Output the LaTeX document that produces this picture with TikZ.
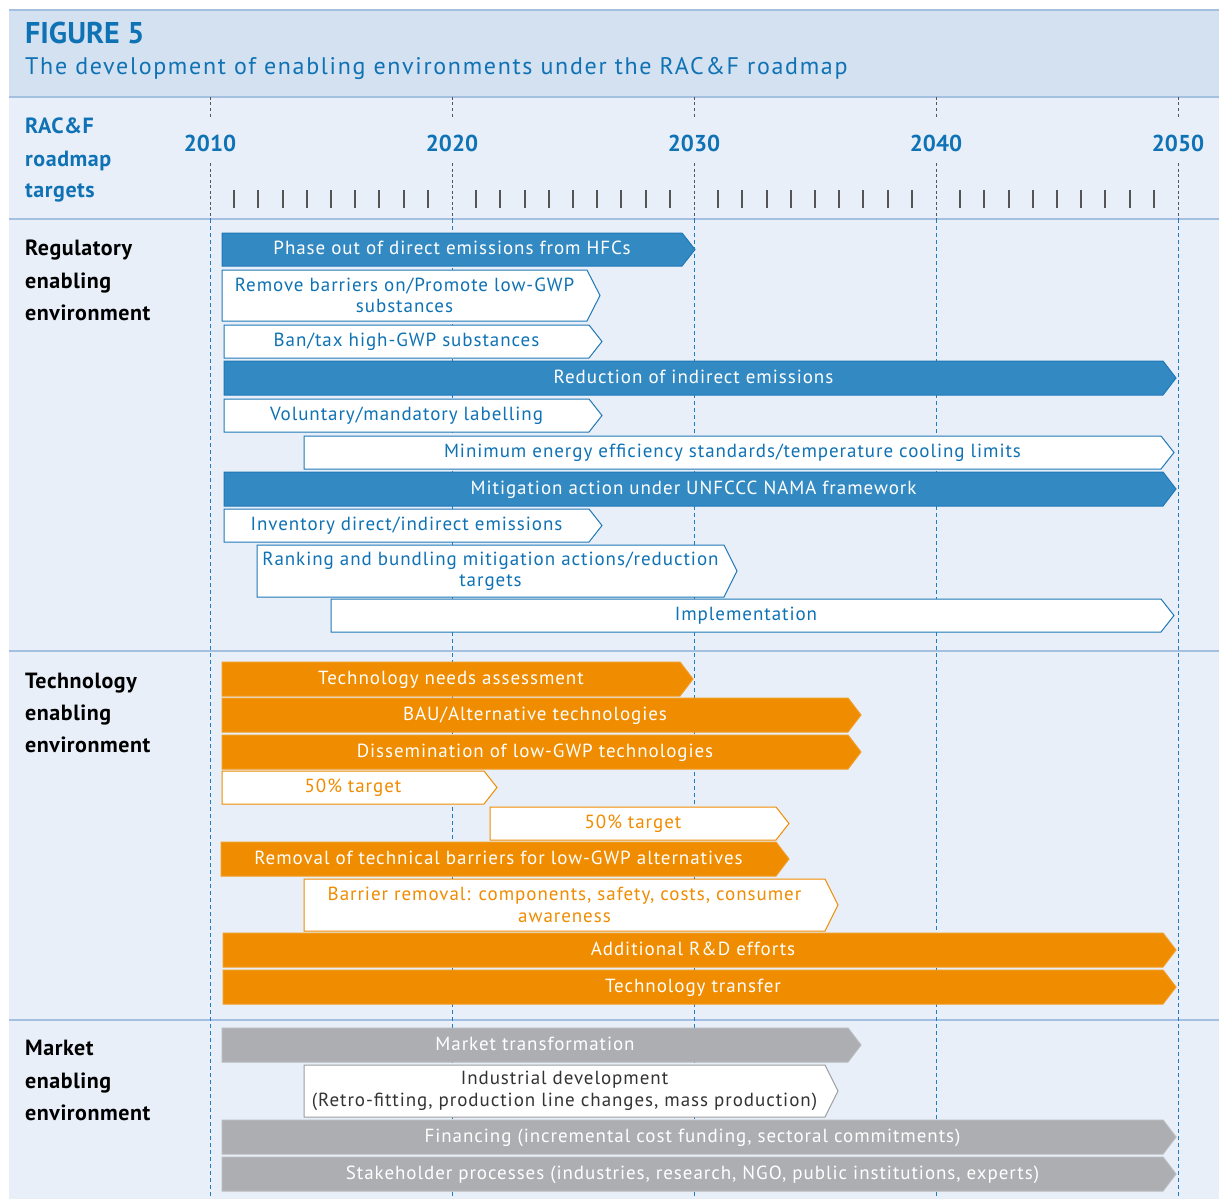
\documentclass[tikz,border=0pt]{standalone}
\usepackage{fontspec}
\setmainfont{PT Sans}
\newfontfamily\barfont[LetterSpace=5]{PT Sans}
\newfontfamily\subfont[LetterSpace=7]{PT Sans}
\newfontfamily\sidefont[LetterSpace=2.5]{PT Sans}
\definecolor{hdr}{HTML}{D4E1F0}
\definecolor{bgc}{HTML}{E8EFF8}
\definecolor{rulec}{HTML}{A3C0E0}
\definecolor{ttl}{HTML}{0F72B5}
\definecolor{bblue}{HTML}{338AC3}
\definecolor{bedge}{HTML}{1F78B8}
\definecolor{orng}{HTML}{F08C00}
\definecolor{gry}{HTML}{ADAEB1}
\definecolor{gedge}{HTML}{9C9DA0}
\definecolor{ylc}{HTML}{1C7DC2}
\definecolor{tickc}{HTML}{555555}
\definecolor{darktxt}{HTML}{333333}
\tikzset{
  barfnt/.style={font=\barfont\fontsize{19}{21.5}\selectfont, inner sep=0pt, align=center},
  rb/.style={fill=bblue, draw=bedge, line width=1pt},
  rbtext/.style={barfnt, text=white},
  rw/.style={fill=white, draw=bedge, line width=1pt},
  rwtext/.style={barfnt, text=ttl},
  ob/.style={fill=orng, draw=orng!85!white, line width=1pt},
  obtext/.style={barfnt, text=white},
  ow/.style={fill=white, draw=orng, line width=1pt},
  owtext/.style={barfnt, text=orng},
  gb/.style={fill=gry, draw=gry!85!white, line width=1pt},
  gbtext/.style={barfnt, text=white},
  gw/.style={fill=white, draw=gedge, line width=1pt},
  gwtext/.style={barfnt, text=darktxt},
  one/.style={text height=14pt, text depth=4pt},
  rulel/.style={draw=rulec, line width=1.5pt},
  ydash/.style={draw=tickc, line width=0.9pt, dash pattern=on 3pt off 2.5pt},
  ybdash/.style={draw=ylc, line width=1pt, dash pattern=on 4pt off 3pt},
  tick/.style={draw=tickc, line width=2pt},
  yearlab/.style={font=\bfseries\fontsize{23}{23}\selectfont, text=ttl, inner sep=0pt, anchor=base},
  sidelab/.style={font=\sidefont\bfseries\fontsize{22}{22}\selectfont, text=black, inner sep=0pt, anchor=base west},
  sidelabb/.style={sidelab, text=ttl},
}
% name, kind, x1, x2(tip), y1, y2, extra, text
\newcommand\rmbar[8]{%
  \path[#2] (#3,#5) -- ({#4-13},#5) -- (#4,{(#5+#6)/2}) -- ({#4-13},#6) -- (#3,#6) -- cycle;
  \node[#2text,#7] (#1) at ({(#3+#4-13)/2},{(#5+#6)/2}) {#8};}
\begin{document}
\begin{tikzpicture}[x=1pt,y=-1pt]
\useasboundingbox (0,0) rectangle (1219,1199);
\fill[white] (0,0) rectangle (1219,1199);
% bands
\fill[hdr] (9,10) rectangle (1219,97);
\fill[bgc] (9,97) rectangle (1219,1199);
\draw[rulel] (9,10) -- (1219,10);
\foreach \yy in {97,219,651,1020} \draw[rulel] (9,\yy) -- (1219,\yy);
% title
\node[anchor=base west, inner sep=0pt, font=\bfseries\fontsize{30}{30}\selectfont, text=ttl] (fig) at (25,44) {FIGURE 5};
\node[anchor=base west, inner sep=0pt, font=\subfont\fontsize{24}{24}\selectfont, text=ttl] (sub) at (25,75) {The development of enabling environments under the RAC\&F roadmap};
% axis header
\node[sidelabb] (h1) at (25,133) {RAC\&F};
\node[sidelabb] (h2) at (25,166) {roadmap};
\node[sidelabb] (h3) at (25,197) {targets};
\foreach \yr/\xx in {2010/210,2020/452,2030/694,2040/936,2050/1178}{
  \node[yearlab] (y\yr) at (\xx,151) {\yr};
  \draw[ydash] (\xx,97) -- (\xx,118);
  \draw[ydash] (\xx,163) -- (\xx,219);
  \draw[ybdash] (\xx,219) -- (\xx,1199);
}
\foreach \d in {0,...,3} \foreach \k in {1,...,9}
  \draw[tick] ({210+24.2*(10*\d+\k)},190) -- ++(0,18);
% side labels
\node[sidelab] (r1) at (25,255) {Regulatory};
\node[sidelab] (r2) at (25,288) {enabling};
\node[sidelab] (r3) at (25,320) {environment};
\node[sidelab] (t1) at (25,688) {Technology};
\node[sidelab] (t2) at (25,720) {enabling};
\node[sidelab] (t3) at (25,752) {environment};
\node[sidelab] (m1) at (25,1055) {Market};
\node[sidelab] (m2) at (25,1088) {enabling};
\node[sidelab] (m3) at (25,1120) {environment};
% regulatory bars
\rmbar{phase}{rb}{222}{695}{233}{266}{one}{Phase out of direct emissions from HFCs}
\rmbar{remove}{rw}{222}{600}{270}{321}{}{Remove barriers on/Promote low-GWP\\substances}
\rmbar{ban}{rw}{224}{602}{325}{358}{one}{Ban/tax high-GWP substances}
\rmbar{reduction}{rb}{224}{1176}{361}{395}{one}{Reduction of indirect emissions}
\rmbar{voluntary}{rw}{224}{602}{399}{432}{one}{Voluntary/mandatory labelling}
\rmbar{minimum}{rw}{304}{1174}{436}{469}{one}{Minimum energy efficiency standards/temperature cooling limits}
\rmbar{mitigation}{rb}{224}{1176}{472}{506}{one}{Mitigation action under UNFCCC NAMA framework}
\rmbar{inventory}{rw}{224}{602}{509}{542}{one}{Inventory direct/indirect emissions}
\rmbar{ranking}{rw}{257}{737}{545}{597}{}{Ranking and bundling mitigation actions/reduction\\targets}
\rmbar{implement}{rw}{331}{1174}{599}{632}{one}{Implementation}
% technology bars
\rmbar{tna}{ob}{222}{693}{662}{696}{one}{Technology needs assessment}
\rmbar{bau}{ob}{222}{861}{698}{732}{one}{BAU/Alternative technologies}
\rmbar{dissem}{ob}{222}{861}{735}{769}{one}{Dissemination of low-GWP technologies}
\rmbar{tfa}{ow}{222}{497}{771}{804}{one}{50\% target}
\rmbar{tfb}{ow}{490}{789}{807}{840}{one}{50\% target}
\rmbar{removal}{ob}{221}{789}{842}{876}{one}{Removal of technical barriers for low-GWP alternatives}
\rmbar{barrier}{ow}{304}{838}{879}{931}{}{Barrier removal: components, safety, costs, consumer\\awareness}
\rmbar{rnd}{ob}{223}{1176}{933}{967}{one}{Additional R\&D efforts}
\rmbar{transfer}{ob}{223}{1176}{970}{1004}{one}{Technology transfer}
% market bars
\rmbar{mkt}{gb}{222}{861}{1028}{1062}{one}{Market transformation}
\rmbar{indev}{gw}{304}{838}{1065}{1117}{}{Industrial development\\(Retro-fitting, production line changes, mass production)}
\rmbar{fin}{gb}{222}{1176}{1120}{1154}{one}{Financing (incremental cost funding, sectoral commitments)}
\rmbar{stake}{gb}{222}{1176}{1157}{1191}{one}{Stakeholder processes (industries, research, NGO, public institutions, experts)}
\end{tikzpicture}
\end{document}
